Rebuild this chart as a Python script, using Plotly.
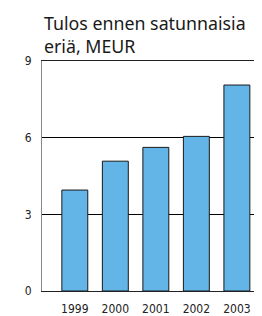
import plotly.graph_objects as go

years = ["1999", "2000", "2001", "2002", "2003"]
values = [3.95, 5.08, 5.62, 6.05, 8.06]
y_ticks = [0, 3, 6, 9]

fig = go.Figure()
fig.add_trace(go.Bar(
    x=years, y=values, width=0.64,
    marker=dict(color="#63b4e7", line=dict(color="#1a1a1a", width=1)),
))

tick_font = dict(family="DejaVu Sans Condensed, Liberation Sans Narrow, Liberation Sans", size=12, color="#222")

fig.update_layout(
    width=254, height=308,
    margin=dict(l=34, r=0, t=53, b=23),
    paper_bgcolor="white", plot_bgcolor="white",
    showlegend=False,
    xaxis=dict(
        type="category", range=[-0.81, 4.62],
        showline=True, linecolor="#222", linewidth=1, mirror=True,
        showgrid=False, ticks="", fixedrange=True, ticklabelstandoff=7,
        tickfont=tick_font,
    ),
    yaxis=dict(
        range=[0, 9], tickvals=y_ticks, ticktext=[str(v) for v in y_ticks],
        showgrid=True, gridcolor="#000", gridwidth=1,
        showline=True, linecolor="#888", linewidth=1,
        zeroline=False, ticks="", ticklen=0, ticklabelstandoff=7,
        tickfont=tick_font,
    ),
    annotations=[dict(
        text="Tulos ennen satunnaisia<br>eriä, MEUR",
        xref="paper", yref="paper", x=0, y=1, yshift=52,
        xanchor="left", yanchor="top", align="left", showarrow=False,
        font=dict(family="Noto Sans", size=17.8, color="#1a1a1a"),
    )],
)

fig.write_html("out.html")
